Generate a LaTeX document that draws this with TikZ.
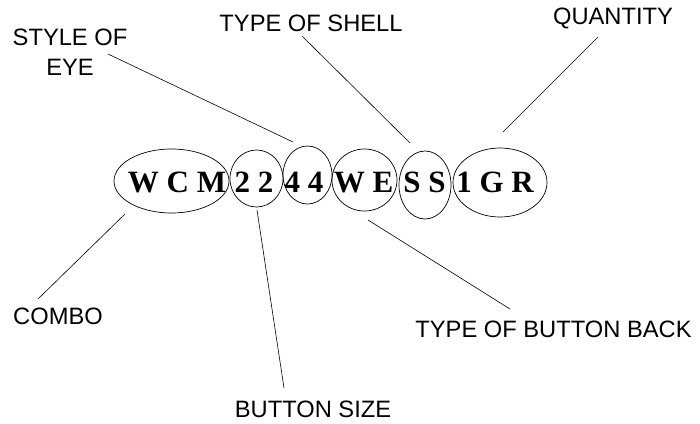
\documentclass[tikz,border=0pt]{standalone}
\usepackage{fontspec}
\setmainfont{Liberation Sans}
\newfontfamily\codefont{Liberation Serif}
\usetikzlibrary{shapes.geometric}
\begin{document}
\begin{tikzpicture}[x=1pt,y=-1pt,
  ring/.style={draw, ellipse, inner sep=0pt, line width=0.7pt},
  code/.style={anchor=base, inner sep=0pt, font=\codefont\bfseries\fontsize{31}{31}\selectfont},
  lbl/.style={anchor=base, inner sep=0pt, font=\fontsize{23.7}{30}\selectfont},
  conn/.style={line width=0.6pt}]
\useasboundingbox (0,0) rectangle (700,423);
% ellipses
\node[ring, minimum width=115pt, minimum height=64pt] (e1) at (171.5,181) {};
\node[ring, minimum width=53pt, minimum height=57pt] (e2) at (256.5,178.5) {};
\node[ring, minimum width=49pt, minimum height=58pt] (e3) at (307.5,175) {};
\node[ring, minimum width=65pt, minimum height=62pt] (e4) at (364.5,180) {};
\node[ring, minimum width=52pt, minimum height=68pt] (e5) at (425,185) {};
\node[ring, minimum width=94pt, minimum height=69pt] (e6) at (500,182.5) {};
% code letters
\node[code] (t1) at (177,192) {W C M};
\node[code] (t2) at (254,192) {2 2};
\node[code] (t3) at (304,192) {4 4};
\node[code] (t4) at (363.5,192) {W E};
\node[code] (t5) at (424.5,192) {S S};
\node[code] (t6) at (495,192) {1 G R};
% labels
\node[lbl] (eye1) at (70,45) {STYLE OF};
\node[lbl] (eye2) at (70,75) {EYE};
\node[lbl] (shell) at (311,31) {TYPE OF SHELL};
\node[lbl] (qty) at (613,24) {QUANTITY};
\node[lbl] (combo) at (58,324) {COMBO};
\node[lbl] (size) at (313,417) {BUTTON SIZE};
\node[lbl] (back) at (553.5,337) {TYPE OF BUTTON BACK};
% connector ends
\coordinate (a1) at (108,54);  \coordinate (a2) at (293,142);
\coordinate (b1) at (302,36);  \coordinate (b2) at (410,143);
\coordinate (c1) at (598,37);  \coordinate (c2) at (503,132);
\coordinate (d1) at (125,214); \coordinate (d2) at (38,299);
\coordinate (f1) at (257,210); \coordinate (f2) at (284,388);
\coordinate (g1) at (368,220); \coordinate (g2) at (510,309);
\draw[conn] (a1) -- (a2);
\draw[conn] (b1) -- (b2);
\draw[conn] (c1) -- (c2);
\draw[conn] (d1) -- (d2);
\draw[conn] (f1) -- (f2);
\draw[conn] (g1) -- (g2);
\end{tikzpicture}
\end{document}
